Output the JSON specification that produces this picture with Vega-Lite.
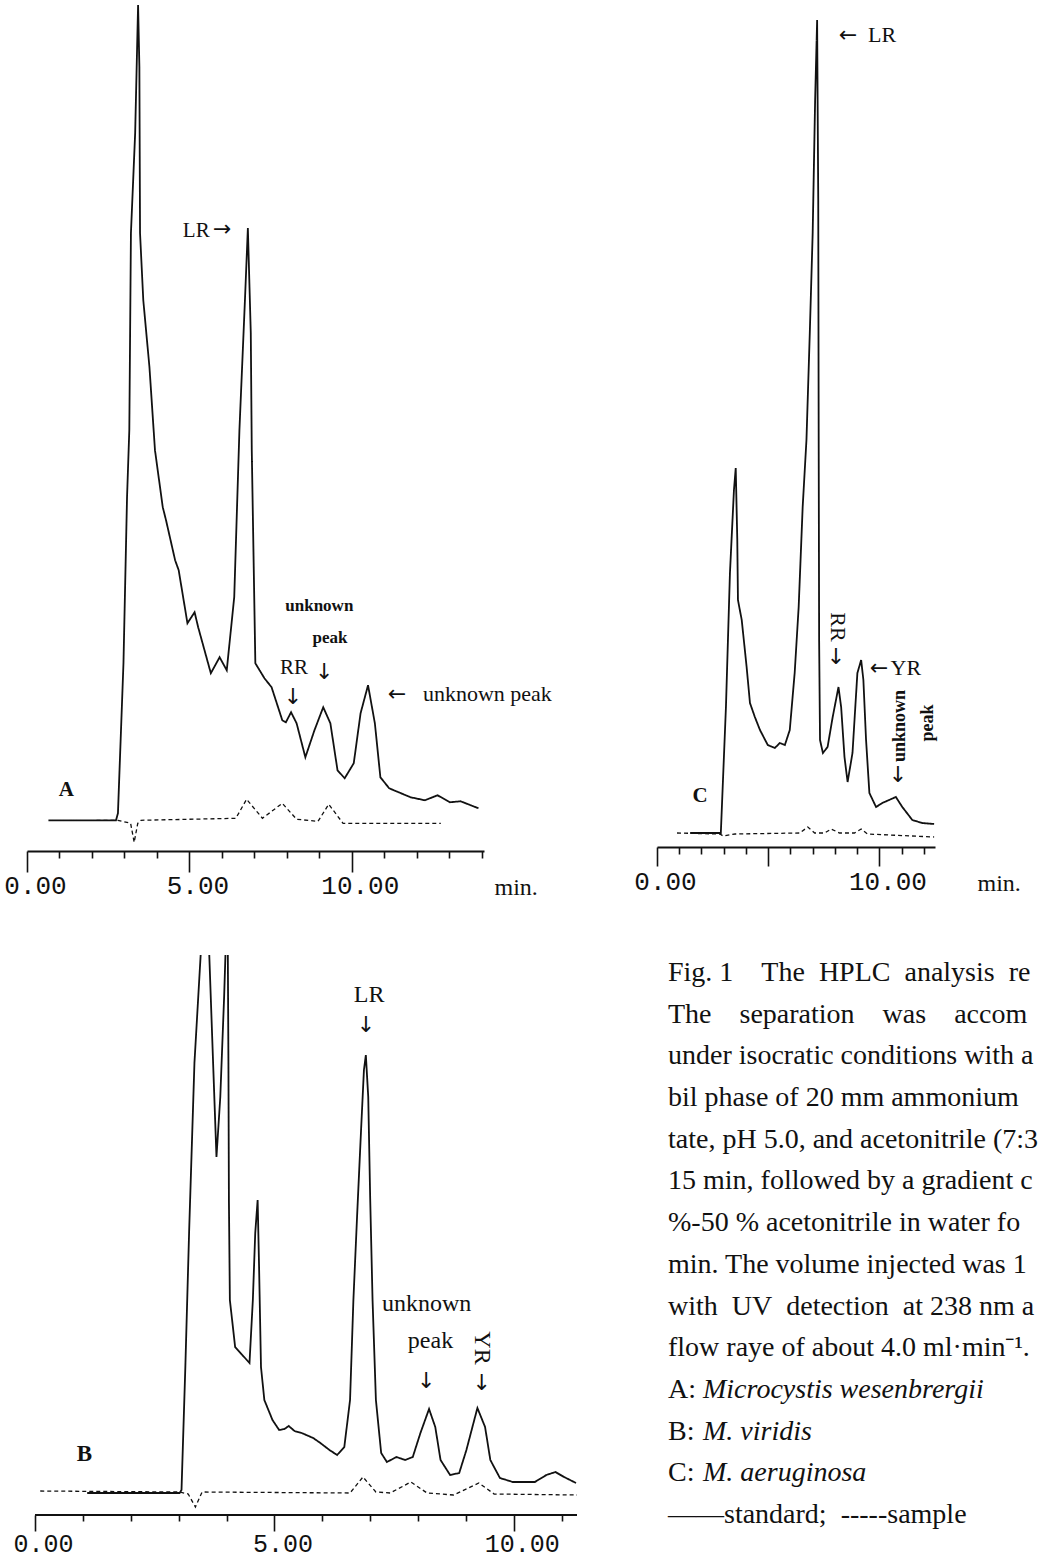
{
  "$schema": "https://vega.github.io/schema/vega-lite/v6.json",
  "padding": {"left": 0, "top": 0, "right": 0, "bottom": 6},
  "background": "white",
  "config": {"view": {"stroke": null}, "font": "Liberation Serif"},
  "datasets": {
    "A": [
      {"s":"standard","t":0.66,"v":0},{"s":"standard","t":2.74,"v":0},{"s":"standard","t":2.80,"v":0.7},{"s":"standard","t":2.97,"v":15.7},{"s":"standard","t":3.08,"v":32.3},{"s":"standard","t":3.15,"v":39.0},{"s":"standard","t":3.20,"v":58.7},{"s":"standard","t":3.33,"v":68.7},{"s":"standard","t":3.42,"v":81.5},{"s":"standard","t":3.46,"v":75.3},{"s":"standard","t":3.48,"v":58.7},{"s":"standard","t":3.58,"v":52.0},{"s":"standard","t":3.77,"v":45.3},{"s":"standard","t":3.94,"v":37.0},{"s":"standard","t":4.18,"v":31.3},{"s":"standard","t":4.28,"v":30.0},{"s":"standard","t":4.56,"v":26.0},{"s":"standard","t":4.67,"v":25.0},{"s":"standard","t":4.94,"v":19.7},{"s":"standard","t":5.16,"v":20.8},{"s":"standard","t":5.27,"v":19.3},{"s":"standard","t":5.66,"v":14.7},{"s":"standard","t":5.93,"v":16.3},{"s":"standard","t":6.15,"v":15.0},{"s":"standard","t":6.38,"v":22.3},{"s":"standard","t":6.54,"v":39.0},{"s":"standard","t":6.71,"v":52.0},{"s":"standard","t":6.80,"v":59.2},{"s":"standard","t":6.89,"v":48.7},{"s":"standard","t":6.92,"v":37.0},{"s":"standard","t":7.03,"v":15.7},{"s":"standard","t":7.31,"v":14.2},{"s":"standard","t":7.53,"v":13.3},{"s":"standard","t":7.86,"v":10.0},{"s":"standard","t":7.97,"v":9.8},{"s":"standard","t":8.13,"v":10.8},{"s":"standard","t":8.30,"v":9.7},{"s":"standard","t":8.57,"v":6.3},{"s":"standard","t":8.85,"v":9.0},{"s":"standard","t":9.12,"v":11.3},{"s":"standard","t":9.34,"v":9.7},{"s":"standard","t":9.56,"v":5.0},{"s":"standard","t":9.78,"v":4.2},{"s":"standard","t":10.06,"v":5.7},{"s":"standard","t":10.27,"v":10.7},{"s":"standard","t":10.50,"v":13.5},{"s":"standard","t":10.71,"v":9.7},{"s":"standard","t":10.88,"v":4.3},{"s":"standard","t":11.15,"v":3.2},{"s":"standard","t":11.81,"v":2.3},{"s":"standard","t":12.25,"v":2.0},{"s":"standard","t":12.64,"v":2.5},{"s":"standard","t":13.02,"v":1.8},{"s":"standard","t":13.35,"v":1.9},{"s":"standard","t":13.90,"v":1.2},
      {"s":"sample","t":2.14,"v":0},{"s":"sample","t":2.80,"v":0},{"s":"sample","t":3.19,"v":-0.3},{"s":"sample","t":3.30,"v":-2.2},{"s":"sample","t":3.41,"v":-0.3},{"s":"sample","t":3.51,"v":0},{"s":"sample","t":6.43,"v":0.2},{"s":"sample","t":6.76,"v":2.1},{"s":"sample","t":7.25,"v":0.2},{"s":"sample","t":7.86,"v":1.7},{"s":"sample","t":8.30,"v":0.1},{"s":"sample","t":8.96,"v":-0.1},{"s":"sample","t":9.29,"v":1.6},{"s":"sample","t":9.73,"v":-0.3},{"s":"sample","t":12.74,"v":-0.3}
    ],
    "C": [
      {"s":"standard","t":1.49,"v":0},{"s":"standard","t":2.87,"v":0},{"s":"standard","t":3.10,"v":12.6},{"s":"standard","t":3.28,"v":26.0},{"s":"standard","t":3.46,"v":34.3},{"s":"standard","t":3.54,"v":36.5},{"s":"standard","t":3.61,"v":29.3},{"s":"standard","t":3.64,"v":23.3},{"s":"standard","t":3.81,"v":21.3},{"s":"standard","t":4.03,"v":16.6},{"s":"standard","t":4.18,"v":13.0},{"s":"standard","t":4.40,"v":11.6},{"s":"standard","t":4.63,"v":10.3},{"s":"standard","t":4.98,"v":8.8},{"s":"standard","t":5.30,"v":8.5},{"s":"standard","t":5.52,"v":9.0},{"s":"standard","t":5.75,"v":8.8},{"s":"standard","t":5.97,"v":10.3},{"s":"standard","t":6.19,"v":16.0},{"s":"standard","t":6.37,"v":22.6},{"s":"standard","t":6.55,"v":32.6},{"s":"standard","t":6.72,"v":39.3},{"s":"standard","t":6.87,"v":50.0},{"s":"standard","t":7.00,"v":60.0},{"s":"standard","t":7.11,"v":73.3},{"s":"standard","t":7.20,"v":81.3},{"s":"standard","t":7.25,"v":63.3},{"s":"standard","t":7.27,"v":39.3},{"s":"standard","t":7.29,"v":19.3},{"s":"standard","t":7.33,"v":9.3},{"s":"standard","t":7.46,"v":8.0},{"s":"standard","t":7.67,"v":8.6},{"s":"standard","t":7.90,"v":11.6},{"s":"standard","t":8.16,"v":14.6},{"s":"standard","t":8.28,"v":12.6},{"s":"standard","t":8.43,"v":7.6},{"s":"standard","t":8.57,"v":5.1},{"s":"standard","t":8.79,"v":8.0},{"s":"standard","t":9.01,"v":16.0},{"s":"standard","t":9.18,"v":17.3},{"s":"standard","t":9.28,"v":15.3},{"s":"standard","t":9.40,"v":9.3},{"s":"standard","t":9.55,"v":4.0},{"s":"standard","t":9.85,"v":2.6},{"s":"standard","t":10.13,"v":3.0},{"s":"standard","t":10.74,"v":3.6},{"s":"standard","t":11.03,"v":2.6},{"s":"standard","t":11.48,"v":1.3},{"s":"standard","t":11.92,"v":1.0},{"s":"standard","t":12.46,"v":0.9},
      {"s":"sample","t":0.90,"v":0},{"s":"sample","t":2.83,"v":-0.1},{"s":"sample","t":2.97,"v":-0.3},{"s":"sample","t":3.51,"v":-0.1},{"s":"sample","t":6.42,"v":0},{"s":"sample","t":6.78,"v":0.6},{"s":"sample","t":7.09,"v":0},{"s":"sample","t":7.54,"v":0},{"s":"sample","t":7.83,"v":0.4},{"s":"sample","t":8.21,"v":0},{"s":"sample","t":8.88,"v":0},{"s":"sample","t":9.18,"v":0.4},{"s":"sample","t":9.46,"v":-0.1},{"s":"sample","t":12.46,"v":-0.4}
    ],
    "B": [
      {"s":"standard","t":1.09,"v":-0.1},{"s":"standard","t":3.02,"v":-0.1},{"s":"standard","t":3.06,"v":0.2},{"s":"standard","t":3.14,"v":12.5},{"s":"standard","t":3.22,"v":26.2},{"s":"standard","t":3.33,"v":42.9},{"s":"standard","t":3.46,"v":53.7},{"s":"standard","t":3.55,"v":64.2},{"s":"standard","t":3.64,"v":53.7},{"s":"standard","t":3.72,"v":42.9},{"s":"standard","t":3.79,"v":33.5},{"s":"standard","t":3.87,"v":39.5},{"s":"standard","t":3.95,"v":49.5},{"s":"standard","t":4.02,"v":60.2},{"s":"standard","t":4.04,"v":42.9},{"s":"standard","t":4.05,"v":29.2},{"s":"standard","t":4.07,"v":19.2},{"s":"standard","t":4.18,"v":14.5},{"s":"standard","t":4.33,"v":13.7},{"s":"standard","t":4.48,"v":12.9},{"s":"standard","t":4.55,"v":19.2},{"s":"standard","t":4.60,"v":25.9},{"s":"standard","t":4.65,"v":29.2},{"s":"standard","t":4.68,"v":22.5},{"s":"standard","t":4.72,"v":12.5},{"s":"standard","t":4.79,"v":9.2},{"s":"standard","t":4.96,"v":7.2},{"s":"standard","t":5.10,"v":6.2},{"s":"standard","t":5.21,"v":6.3},{"s":"standard","t":5.30,"v":6.6},{"s":"standard","t":5.42,"v":6.1},{"s":"standard","t":5.57,"v":5.9},{"s":"standard","t":5.81,"v":5.4},{"s":"standard","t":5.96,"v":4.9},{"s":"standard","t":6.15,"v":4.2},{"s":"standard","t":6.31,"v":3.7},{"s":"standard","t":6.46,"v":4.5},{"s":"standard","t":6.58,"v":9.2},{"s":"standard","t":6.65,"v":19.2},{"s":"standard","t":6.73,"v":27.9},{"s":"standard","t":6.81,"v":36.2},{"s":"standard","t":6.87,"v":42.2},{"s":"standard","t":6.91,"v":43.7},{"s":"standard","t":6.96,"v":39.5},{"s":"standard","t":7.00,"v":29.5},{"s":"standard","t":7.05,"v":19.2},{"s":"standard","t":7.12,"v":9.2},{"s":"standard","t":7.23,"v":3.9},{"s":"standard","t":7.35,"v":3.0},{"s":"standard","t":7.55,"v":3.5},{"s":"standard","t":7.73,"v":3.2},{"s":"standard","t":7.89,"v":3.5},{"s":"standard","t":8.05,"v":5.9},{"s":"standard","t":8.23,"v":8.3},{"s":"standard","t":8.36,"v":6.5},{"s":"standard","t":8.47,"v":3.2},{"s":"standard","t":8.67,"v":1.7},{"s":"standard","t":8.86,"v":1.9},{"s":"standard","t":9.01,"v":4.2},{"s":"standard","t":9.24,"v":8.4},{"s":"standard","t":9.40,"v":6.5},{"s":"standard","t":9.51,"v":3.2},{"s":"standard","t":9.71,"v":1.4},{"s":"standard","t":9.98,"v":1.0},{"s":"standard","t":10.44,"v":1.0},{"s":"standard","t":10.68,"v":1.7},{"s":"standard","t":10.87,"v":2.0},{"s":"standard","t":11.05,"v":1.5},{"s":"standard","t":11.30,"v":0.9},
      {"s":"sample","t":0.11,"v":0.1},{"s":"sample","t":3.02,"v":0},{"s":"sample","t":3.20,"v":-0.2},{"s":"sample","t":3.35,"v":-1.5},{"s":"sample","t":3.49,"v":0},{"s":"sample","t":6.58,"v":-0.1},{"s":"sample","t":6.85,"v":1.5},{"s":"sample","t":7.12,"v":0},{"s":"sample","t":7.42,"v":-0.1},{"s":"sample","t":7.85,"v":1.0},{"s":"sample","t":8.19,"v":-0.1},{"s":"sample","t":8.74,"v":-0.3},{"s":"sample","t":9.27,"v":0.9},{"s":"sample","t":9.59,"v":-0.2},{"s":"sample","t":11.32,"v":-0.3}
    ],
    "A_ann": [
      {"t":5.21,"v":58.9,"label":"LR","kind":"c"},
      {"t":6.01,"v":59.1,"label":"→","kind":"a"},
      {"t":8.22,"v":15.2,"label":"RR","kind":"c"},
      {"t":8.19,"v":12.3,"label":"↓","kind":"a"},
      {"t":9.15,"v":14.8,"label":"↓","kind":"a"},
      {"t":9.00,"v":21.4,"label":"unknown","kind":"cb"},
      {"t":9.33,"v":18.2,"label":"peak","kind":"cb"},
      {"t":11.39,"v":12.6,"label":"←","kind":"a"},
      {"t":12.19,"v":12.6,"label":"unknown peak","kind":"l"},
      {"t":1.21,"v":3.0,"label":"A","kind":"p"}
    ],
    "C_ann": [
      {"t":8.59,"v":79.8,"label":"←","kind":"a"},
      {"t":10.12,"v":79.8,"label":"LR","kind":"c"},
      {"t":8.12,"v":20.6,"label":"RR","kind":"v"},
      {"t":8.05,"v":17.6,"label":"↓","kind":"a"},
      {"t":9.98,"v":16.5,"label":"←","kind":"a"},
      {"t":11.19,"v":16.5,"label":"YR","kind":"c"},
      {"t":10.92,"v":10.7,"label":"unknown","kind":"vb"},
      {"t":12.18,"v":11.0,"label":"peak","kind":"vb"},
      {"t":10.83,"v":5.8,"label":"↓","kind":"a"},
      {"t":1.94,"v":3.7,"label":"C","kind":"p"}
    ],
    "B_ann": [
      {"t":6.98,"v":49.7,"label":"LR","kind":"c"},
      {"t":6.91,"v":46.7,"label":"↓","kind":"a"},
      {"t":8.18,"v":18.8,"label":"unknown","kind":"c"},
      {"t":8.26,"v":15.1,"label":"peak","kind":"c"},
      {"t":8.17,"v":11.1,"label":"↓","kind":"a"},
      {"t":9.34,"v":14.4,"label":"YR","kind":"v"},
      {"t":9.33,"v":10.9,"label":"↓","kind":"a"},
      {"t":1.03,"v":3.8,"label":"B","kind":"p"}
    ],
    "caption": [
      {"line":0,"text":"Fig. 1\u00a0\u00a0\u00a0\u00a0The\u00a0 HPLC\u00a0 analysis\u00a0 re","italic":""},
      {"line":1,"text":"The\u00a0\u00a0\u00a0 separation\u00a0\u00a0\u00a0 was\u00a0\u00a0\u00a0 accompl","italic":""},
      {"line":2,"text":"under isocratic conditions with a","italic":""},
      {"line":3,"text":"bil phase of 20 mm ammonium","italic":""},
      {"line":4,"text":"tate, pH 5.0, and acetonitrile (7:3","italic":""},
      {"line":5,"text":"15 min, followed by a gradient c","italic":""},
      {"line":6,"text":"%-50 % acetonitrile in water fo","italic":""},
      {"line":7,"text":"min. The volume injected was 1","italic":""},
      {"line":8,"text":"with\u00a0 UV\u00a0 detection\u00a0 at 238 nm a","italic":""},
      {"line":9,"text":"flow raye of about 4.0 ml·min⁻¹.","italic":""},
      {"line":10,"text":"A:","italic":"Microcystis wesenbrergii"},
      {"line":11,"text":"B:","italic":"M. viridis"},
      {"line":12,"text":"C:","italic":"M. aeruginosa"},
      {"line":13,"text":"——standard;\u00a0 -----sample","italic":""}
    ]
  },
  "columns": 1,
  "align": "none",
  "spacing": 56,
  "concat": [
    {
      "spacing": 0,
      "hconcat": [
        {
          "width": 457, "height": 851,
          "layer": [
            {
              "data": {"name": "A"},
              "mark": {"type": "line", "color": "#111", "clip": true},
              "encoding": {
                "x": {"field": "t", "type": "quantitative", "scale": {"domain": [0, 14.07], "nice": false, "zero": false},
                  "axis": {"values": [0,1,2,3,4,5,6,7,8,9,10,11,12,13,14], "tickCount": 40, "grid": false,
                    "labelExpr": "datum.value % 5 === 0 ? format(datum.value, '.2f') : ''",
                    "labelFont": "Liberation Mono", "labelFontSize": 26, "labelColor": "#111", "labelFlush": false, "labelOverlap": false, "labelOffset": 8, "labelPadding": 0,
                    "tickSize": {"condition": {"test": "datum.value % 5 === 0", "value": 21}, "value": 7},
                    "tickColor": "#111", "tickWidth": 1.6, "domainColor": "#111", "domainWidth": 2,
                    "title": "min.", "titleFont": "Liberation Serif", "titleFontSize": 24, "titleFontWeight": "normal", "titleColor": "#111",
                    "titleX": 467, "titleY": 43, "titleAlign": "left", "titleAnchor": "start", "titleBaseline": "alphabetic", "titleAngle": 0}},
                "y": {"field": "v", "type": "quantitative", "scale": {"domain": [-3.07, 82], "nice": false, "zero": false},
                  "axis": {"labels": false, "ticks": false, "domain": false, "grid": false, "title": null, "minExtent": 27, "maxExtent": 27}},
                "strokeDash": {"field": "s", "type": "nominal", "scale": {"domain": ["standard", "sample"], "range": [[1, 0], [4, 3]]}, "legend": null},
                "strokeWidth": {"field": "s", "type": "nominal", "scale": {"domain": ["standard", "sample"], "range": [1.8, 1.3]}, "legend": null}
              }
            },
            {
              "data": {"name": "A_ann"}, "transform": [{"filter": "datum.kind === 'c'"}],
              "mark": {"type": "text", "font": "Liberation Serif", "fontSize": 21, "color": "#111", "align": "center", "baseline": "middle"},
              "encoding": {"x": {"field": "t", "type": "quantitative"}, "y": {"field": "v", "type": "quantitative"}, "text": {"field": "label"}}
            },
            {
              "data": {"name": "A_ann"}, "transform": [{"filter": "datum.kind === 'a'"}],
              "mark": {"type": "text", "font": "DejaVu Sans", "fontSize": 22, "color": "#111", "align": "center", "baseline": "middle"},
              "encoding": {"x": {"field": "t", "type": "quantitative"}, "y": {"field": "v", "type": "quantitative"}, "text": {"field": "label"}}
            },
            {
              "data": {"name": "A_ann"}, "transform": [{"filter": "datum.kind === 'cb'"}],
              "mark": {"type": "text", "font": "Liberation Serif", "fontSize": 17, "fontWeight": "bold", "color": "#111", "align": "center", "baseline": "middle"},
              "encoding": {"x": {"field": "t", "type": "quantitative"}, "y": {"field": "v", "type": "quantitative"}, "text": {"field": "label"}}
            },
            {
              "data": {"name": "A_ann"}, "transform": [{"filter": "datum.kind === 'l'"}],
              "mark": {"type": "text", "font": "Liberation Serif", "fontSize": 22, "color": "#111", "align": "left", "baseline": "middle"},
              "encoding": {"x": {"field": "t", "type": "quantitative"}, "y": {"field": "v", "type": "quantitative"}, "text": {"field": "label"}}
            },
            {
              "data": {"name": "A_ann"}, "transform": [{"filter": "datum.kind === 'p'"}],
              "mark": {"type": "text", "font": "Liberation Serif", "fontSize": 21, "fontWeight": "bold", "color": "#111", "align": "center", "baseline": "middle"},
              "encoding": {"x": {"field": "t", "type": "quantitative"}, "y": {"field": "v", "type": "quantitative"}, "text": {"field": "label"}}
            }
          ]
        },
        {
          "width": 278, "height": 847,
          "layer": [
            {
              "data": {"name": "C"},
              "mark": {"type": "line", "color": "#111", "clip": true},
              "encoding": {
                "x": {"field": "t", "type": "quantitative", "scale": {"domain": [0, 12.5], "nice": false, "zero": false},
                  "axis": {"values": [0,1,2,3,4,5,6,7,8,9,10,11,12], "tickCount": 40, "grid": false,
                    "labelExpr": "datum.value % 10 === 0 ? format(datum.value, '.2f') : ''",
                    "labelFont": "Liberation Mono", "labelFontSize": 26, "labelColor": "#111", "labelFlush": false, "labelOverlap": false, "labelOffset": 8, "labelPadding": 2,
                    "tickSize": {"condition": {"test": "datum.value % 5 === 0", "value": 19}, "value": 7},
                    "tickColor": "#111", "tickWidth": 1.6, "domainColor": "#111", "domainWidth": 2,
                    "title": "min.", "titleFont": "Liberation Serif", "titleFontSize": 24, "titleFontWeight": "normal", "titleColor": "#111",
                    "titleX": 320, "titleY": 43, "titleAlign": "left", "titleAnchor": "start", "titleBaseline": "alphabetic", "titleAngle": 0}},
                "y": {"field": "v", "type": "quantitative", "scale": {"domain": [-1.4, 83.3], "nice": false, "zero": false},
                  "axis": {"labels": false, "ticks": false, "domain": false, "grid": false, "title": null, "minExtent": 105, "maxExtent": 105}},
                "strokeDash": {"field": "s", "type": "nominal", "scale": {"domain": ["standard", "sample"], "range": [[1, 0], [4, 3]]}, "legend": null},
                "strokeWidth": {"field": "s", "type": "nominal", "scale": {"domain": ["standard", "sample"], "range": [1.8, 1.3]}, "legend": null}
              }
            },
            {
              "data": {"name": "C_ann"}, "transform": [{"filter": "datum.kind === 'c'"}],
              "mark": {"type": "text", "font": "Liberation Serif", "fontSize": 22, "color": "#111", "align": "center", "baseline": "middle"},
              "encoding": {"x": {"field": "t", "type": "quantitative"}, "y": {"field": "v", "type": "quantitative"}, "text": {"field": "label"}}
            },
            {
              "data": {"name": "C_ann"}, "transform": [{"filter": "datum.kind === 'a'"}],
              "mark": {"type": "text", "font": "DejaVu Sans", "fontSize": 22, "color": "#111", "align": "center", "baseline": "middle"},
              "encoding": {"x": {"field": "t", "type": "quantitative"}, "y": {"field": "v", "type": "quantitative"}, "text": {"field": "label"}}
            },
            {
              "data": {"name": "C_ann"}, "transform": [{"filter": "datum.kind === 'v'"}],
              "mark": {"type": "text", "font": "Liberation Serif", "fontSize": 22, "color": "#111", "align": "center", "baseline": "middle", "angle": 90},
              "encoding": {"x": {"field": "t", "type": "quantitative"}, "y": {"field": "v", "type": "quantitative"}, "text": {"field": "label"}}
            },
            {
              "data": {"name": "C_ann"}, "transform": [{"filter": "datum.kind === 'vb'"}],
              "mark": {"type": "text", "font": "Liberation Serif", "fontSize": 18, "fontWeight": "bold", "color": "#111", "align": "center", "baseline": "middle", "angle": 270},
              "encoding": {"x": {"field": "t", "type": "quantitative"}, "y": {"field": "v", "type": "quantitative"}, "text": {"field": "label"}}
            },
            {
              "data": {"name": "C_ann"}, "transform": [{"filter": "datum.kind === 'p'"}],
              "mark": {"type": "text", "font": "Liberation Serif", "fontSize": 21, "fontWeight": "bold", "color": "#111", "align": "center", "baseline": "middle"},
              "encoding": {"x": {"field": "t", "type": "quantitative"}, "y": {"field": "v", "type": "quantitative"}, "text": {"field": "label"}}
            }
          ]
        }
      ]
    },
    {
      "spacing": 90,
      "hconcat": [
        {
          "width": 550, "height": 560,
          "layer": [
            {
              "data": {"name": "B"},
              "mark": {"type": "line", "color": "#111", "clip": true},
              "encoding": {
                "x": {"field": "t", "type": "quantitative", "scale": {"domain": [-0.167, 11.32], "nice": false, "zero": false},
                  "axis": {"values": [0,1,2,3,4,5,6,7,8,9,10,11], "tickCount": 40, "grid": false, "domain": false,
                    "labelExpr": "datum.value % 5 === 0 ? format(datum.value, '.2f') : ''",
                    "labelFont": "Liberation Mono", "labelFontSize": 25, "labelColor": "#111", "labelFlush": false, "labelOverlap": false, "labelOffset": 8, "labelPadding": 0,
                    "tickSize": {"condition": {"test": "datum.value % 5 === 0", "value": 16}, "value": 6},
                    "tickColor": "#111", "tickWidth": 1.6,
                    "title": null}},
                "y": {"field": "v", "type": "quantitative", "scale": {"domain": [-2.3, 53.7], "nice": false, "zero": false},
                  "axis": {"labels": false, "ticks": false, "domain": false, "grid": false, "title": null, "minExtent": 27, "maxExtent": 27}},
                "strokeDash": {"field": "s", "type": "nominal", "scale": {"domain": ["standard", "sample"], "range": [[1, 0], [4, 3]]}, "legend": null},
                "strokeWidth": {"field": "s", "type": "nominal", "scale": {"domain": ["standard", "sample"], "range": [1.8, 1.3]}, "legend": null}
              }
            },
            {
              "data": {"values": [{}]},
              "mark": {"type": "rule", "color": "#111", "strokeWidth": 2},
              "encoding": {"x": {"datum": 0}, "x2": {"datum": 11.32}, "y": {"datum": -2.3}}
            },
            {
              "data": {"name": "B_ann"}, "transform": [{"filter": "datum.kind === 'c'"}],
              "mark": {"type": "text", "font": "Liberation Serif", "fontSize": 24, "color": "#111", "align": "center", "baseline": "middle"},
              "encoding": {"x": {"field": "t", "type": "quantitative"}, "y": {"field": "v", "type": "quantitative"}, "text": {"field": "label"}}
            },
            {
              "data": {"name": "B_ann"}, "transform": [{"filter": "datum.kind === 'a'"}],
              "mark": {"type": "text", "font": "DejaVu Sans", "fontSize": 22, "color": "#111", "align": "center", "baseline": "middle"},
              "encoding": {"x": {"field": "t", "type": "quantitative"}, "y": {"field": "v", "type": "quantitative"}, "text": {"field": "label"}}
            },
            {
              "data": {"name": "B_ann"}, "transform": [{"filter": "datum.kind === 'v'"}],
              "mark": {"type": "text", "font": "Liberation Serif", "fontSize": 24, "color": "#111", "align": "center", "baseline": "middle", "angle": 90},
              "encoding": {"x": {"field": "t", "type": "quantitative"}, "y": {"field": "v", "type": "quantitative"}, "text": {"field": "label"}}
            },
            {
              "data": {"name": "B_ann"}, "transform": [{"filter": "datum.kind === 'p'"}],
              "mark": {"type": "text", "font": "Liberation Serif", "fontSize": 23, "fontWeight": "bold", "color": "#111", "align": "center", "baseline": "middle"},
              "encoding": {"x": {"field": "t", "type": "quantitative"}, "y": {"field": "v", "type": "quantitative"}, "text": {"field": "label"}}
            }
          ]
        },
        {
          "width": 373, "height": 560,
          "data": {"name": "caption"},
          "layer": [
            {
              "mark": {"type": "text", "font": "Liberation Serif", "fontSize": 28, "color": "#111", "align": "left", "baseline": "middle", "limit": 373, "ellipsis": "\u200b"},
              "encoding": {
                "y": {"field": "line", "type": "quantitative", "scale": {"domain": [-0.43, 13.0], "reverse": true, "nice": false, "zero": false}, "axis": null},
                "x": {"value": 0},
                "text": {"field": "text"}
              }
            },
            {
              "mark": {"type": "text", "font": "Liberation Serif", "fontSize": 28, "fontStyle": "italic", "color": "#111", "align": "left", "baseline": "middle", "dx": 35, "limit": 338, "ellipsis": "\u200b"},
              "encoding": {
                "y": {"field": "line", "type": "quantitative"},
                "x": {"value": 0},
                "text": {"field": "italic"}
              }
            }
          ]
        }
      ]
    }
  ]
}
